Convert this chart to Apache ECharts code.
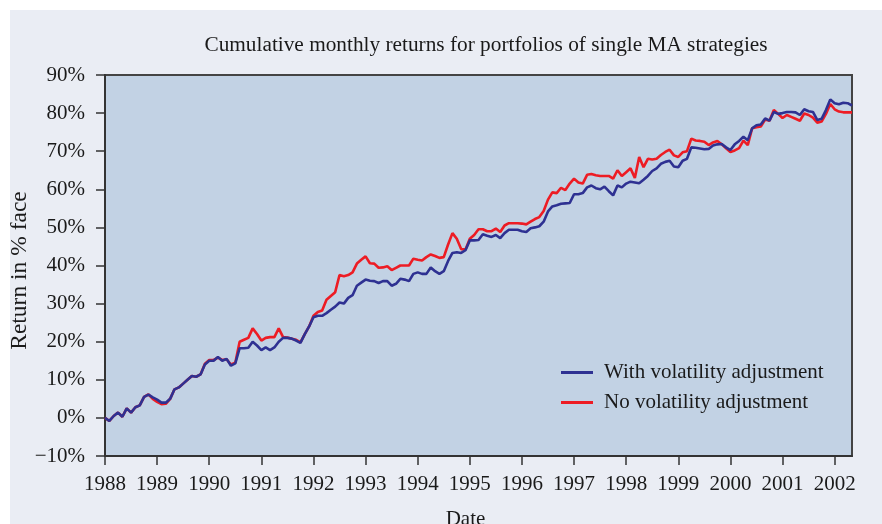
<!DOCTYPE html>
<html>
<head>
<meta charset="utf-8">
<script src="https://cdn.jsdelivr.net/npm/echarts@6/dist/echarts.min.js"></script>
<style>
html,body{margin:0;padding:0;background:#fff;}
#chart{width:882px;height:524px;background:#eaedf4;box-shadow:inset 10px 10px 0 0 #fff;}
</style>
</head>
<body>
<div id="chart"></div>
<script>
// Monthly observations starting January 1988
const startYear = 1988;
const yearTicks = [1988,1989,1990,1991,1992,1993,1994,1995,1996,1997,1998,1999,2000,2001,2002];
const seriesNames = ['With volatility adjustment', 'No volatility adjustment'];

// With volatility adjustment (% of face), monthly
const withVol = [
  0.0,-0.8,0.5,1.4,0.3,2.5,1.4,2.8,3.3,5.5,6.1,5.4,
  4.8,4.0,4.0,5.0,7.5,8.0,9.0,10.0,11.0,10.8,11.4,14.0,
  15.0,15.0,16.0,15.0,15.5,13.7,14.3,18.3,18.3,18.4,20.0,19.0,
  17.8,18.5,17.8,18.5,20.0,21.0,21.0,20.8,20.3,19.7,22.0,24.0,
  26.4,26.8,26.8,27.5,28.4,29.2,30.3,30.0,31.5,32.2,34.7,35.5,
  36.3,36.0,35.9,35.4,35.9,35.9,34.7,35.2,36.5,36.3,35.9,37.8,
  38.2,37.8,37.8,39.5,38.5,37.8,38.5,41.2,43.3,43.5,43.3,44.0,
  46.6,46.6,46.7,48.2,47.8,47.5,48.0,47.2,48.5,49.4,49.4,49.4,
  49.0,48.8,49.8,50.0,50.3,51.5,54.2,55.5,55.8,56.2,56.3,56.4,
  58.7,58.7,59.0,60.5,61.0,60.3,60.0,60.7,59.5,58.4,61.0,60.5,
  61.5,62.0,61.8,61.6,62.5,63.5,64.8,65.5,66.7,67.2,67.5,66.0,
  65.8,67.5,68.0,71.0,70.9,70.7,70.5,70.6,71.5,71.8,71.9,71.0,
  70.3,71.8,72.7,73.8,72.9,76.0,76.8,77.0,78.6,78.0,80.3,79.8,
  80.0,80.3,80.3,80.2,79.5,81.0,80.5,80.3,78.2,78.5,80.8,83.6,
  82.6,82.3,82.7,82.6,82.0
];

// No volatility adjustment (% of face), monthly
const noVol = [
  0.0,-0.8,0.5,1.4,0.3,2.5,1.4,2.8,3.3,5.5,6.2,5.0,
  4.2,3.6,3.7,5.0,7.5,8.0,9.0,10.0,11.0,10.8,11.4,14.2,
  15.2,15.2,15.8,15.2,15.4,14.0,14.5,20.0,20.5,21.0,23.5,22.0,
  20.3,21.0,21.2,21.2,23.5,21.2,21.1,20.8,20.5,19.8,22.0,24.0,
  26.8,27.8,28.2,31.0,32.0,33.0,37.5,37.2,37.5,38.2,40.5,41.5,
  42.4,40.6,40.5,39.4,39.5,39.8,38.8,39.4,40.0,40.0,40.0,41.8,
  41.5,41.3,42.2,42.9,42.5,42.0,42.2,45.5,48.5,47.0,44.3,44.2,
  47.0,48.0,49.5,49.5,49.0,49.0,49.7,48.8,50.5,51.1,51.1,51.1,
  51.0,50.8,51.5,52.2,52.7,54.3,57.3,59.2,59.0,60.4,59.8,61.5,
  62.8,61.8,61.5,63.8,64.0,63.7,63.5,63.5,63.5,62.8,65.0,63.5,
  64.5,65.5,63.0,68.5,65.8,68.0,67.8,68.0,69.0,69.8,70.4,68.9,
  68.5,69.7,70.0,73.3,72.8,72.7,72.5,71.6,72.3,72.7,71.8,70.8,
  69.8,70.2,70.8,72.8,71.6,76.0,76.3,76.5,78.3,78.0,80.8,79.8,
  78.7,79.5,79.0,78.5,78.0,79.9,79.5,78.8,77.5,77.8,79.8,82.4,
  81.0,80.4,80.2,80.2,80.2
];

const toPairs = arr => arr.map((v, i) => [startYear + i / 12, v]);
const lastX = startYear + (withVol.length - 1) / 12;

const font = 'Liberation Serif, Times New Roman, serif';
const fs = 21;
const chart = echarts.init(document.getElementById('chart'), null, {renderer: 'canvas'});
chart.setOption({
  backgroundColor: 'transparent',
  animation: false,
  textStyle: {fontFamily: font},
  title: {
    text: 'Cumulative monthly returns for portfolios of single MA strategies',
    left: 486, top: 35, textAlign: 'center', padding: 0,
    textStyle: {fontFamily: font, fontSize: 21.3, fontWeight: 'normal', color: '#1a1a1a'}
  },
  grid: {
    left: 105, top: 75, right: 30, bottom: 68,
    show: true, backgroundColor: '#c2d2e4', borderColor: '#444', borderWidth: 2,
    containLabel: false, outerBoundsMode: 'none'
  },
  legend: {
    orient: 'vertical', left: 561, top: 362, padding: 0,
    icon: 'rect', itemWidth: 32, itemHeight: 3, itemGap: 9,
    data: seriesNames,
    textStyle: {fontFamily: font, fontSize: fs, color: '#1a1a1a', padding: [0, 0, 0, 6]}
  },
  xAxis: {
    type: 'value', min: startYear, max: lastX,
    name: 'Date', nameLocation: 'middle', nameGap: 53, nameMoveOverlap: false,
    nameTextStyle: {fontFamily: font, fontSize: fs, color: '#1a1a1a', padding: [0, 26, 0, 0]},
    axisLine: {show: true, onZero: false, lineStyle: {color: '#333', width: 2}},
    axisTick: {show: true, length: 9, customValues: yearTicks, lineStyle: {color: '#333', width: 1.5}},
    axisLabel: {customValues: yearTicks, margin: 18, fontFamily: font, fontSize: fs, color: '#1a1a1a',
      formatter: v => String(Math.round(v))},
    splitLine: {show: false}
  },
  yAxis: {
    type: 'value', min: -10, max: 90, interval: 10,
    name: 'Return in % face', nameLocation: 'middle', nameGap: 73, nameRotate: 90, nameMoveOverlap: false,
    nameTextStyle: {fontFamily: font, fontSize: 23.5, color: '#1a1a1a', padding: [0, 10, 0, 0]},
    axisLine: {show: true, onZero: false, lineStyle: {color: '#333', width: 2}},
    axisTick: {show: true, length: 9, lineStyle: {color: '#333', width: 1.5}},
    axisLabel: {margin: 20, fontFamily: font, fontSize: fs, color: '#1a1a1a',
      formatter: v => (v < 0 ? '\u2212' + Math.abs(v) : v) + '%'},
    splitLine: {show: false}
  },
  series: [
    {
      name: seriesNames[1], type: 'line', data: toPairs(noVol), symbol: 'none',
      color: '#ed1c24', lineStyle: {width: 2.6, color: '#ed1c24'}, z: 2
    },
    {
      name: seriesNames[0], type: 'line', data: toPairs(withVol), symbol: 'none',
      color: '#2e3192', lineStyle: {width: 2.6, color: '#2e3192'}, z: 3
    }
  ]
});
</script>
</body>
</html>
